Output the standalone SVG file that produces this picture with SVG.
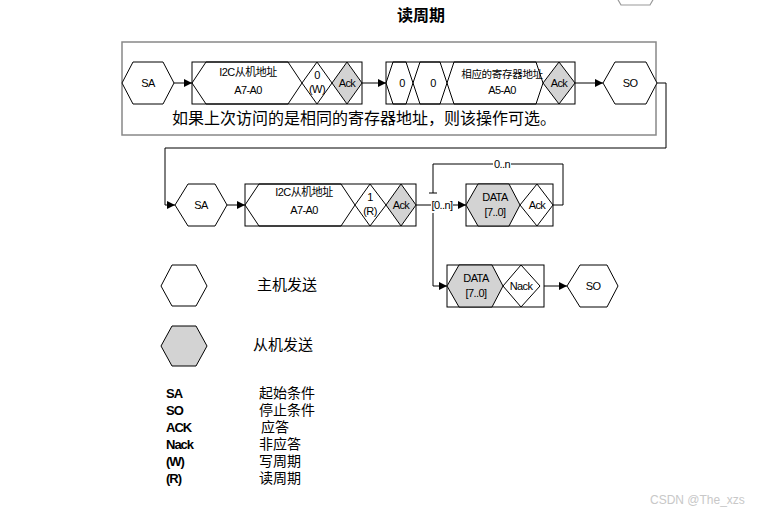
<svg xmlns="http://www.w3.org/2000/svg" width="762" height="514" viewBox="0 0 762 514">
<defs>
<marker id="arr" viewBox="0 0 10 10" refX="10" refY="5" markerWidth="8" markerHeight="8" markerUnits="userSpaceOnUse" orient="auto">
<path d="M0,0 L10,5 L0,10 z" fill="#000"/>
</marker>
<style>
.s{fill:none;stroke:#000;stroke-width:1}
.w{fill:#fff;stroke:#000;stroke-width:1}
.g{fill:#d3d3d3;stroke:#000;stroke-width:1}
.c{fill:none;stroke:#000;stroke-width:1}
.t{font-family:"Liberation Sans",Arial,sans-serif;font-size:11px;letter-spacing:-0.6px;text-anchor:middle;fill:#000}
.tc{font-family:"Liberation Sans","Noto Sans CJK SC",sans-serif;font-size:11px;letter-spacing:-0.5px;text-anchor:middle;fill:#000}
.cn{font-family:"Noto Sans CJK SC",sans-serif;font-size:15px;fill:#000}
.cs{font-family:"Liberation Sans","Noto Sans CJK SC",sans-serif;font-size:14px;fill:#000}
.lg{font-family:"Liberation Sans",Arial,sans-serif;font-size:13px;font-weight:bold;letter-spacing:-1px;fill:#000}
</style>
</defs>
<rect width="762" height="514" fill="#fff"/>
<polyline points="617,-2 621,5 650,5 654,-2" fill="none" stroke="#999" stroke-width="1.2"/>
<text x="421" y="21" font-family="'Noto Sans CJK SC',sans-serif" font-size="16" font-weight="bold" text-anchor="middle">读周期</text>
<rect id="optional" x="122" y="42" width="534" height="93" fill="none" stroke="#888" stroke-width="1.5"/>
<text x="364" y="124" class="cn" text-anchor="middle" style="font-size:16px">如果上次访问的是相同的寄存器地址，则该操作可选。</text>

<g id="connectors">
<line class="c" x1="174" y1="83" x2="192" y2="83" marker-end="url(#arr)"/>
<line class="c" x1="362" y1="83" x2="386" y2="83" marker-end="url(#arr)"/>
<line class="c" x1="575" y1="83" x2="603" y2="83" marker-end="url(#arr)"/>
<polyline class="c" points="657,83 666,83 666,148 165,148 165,205 175,205" marker-end="url(#arr)"/>
<line class="c" x1="227" y1="205" x2="245" y2="205" marker-end="url(#arr)"/>
<line class="c" x1="416" y1="205" x2="431" y2="205"/>
<line class="c" x1="453" y1="205" x2="466" y2="205" marker-end="url(#arr)"/>
<polyline class="c" points="553,205 563,205 563,164 433,164 433,193"/>
<line class="c" x1="429" y1="193" x2="437" y2="193"/>
<rect x="493" y="157" width="18" height="12" fill="#fff"/>
<text x="502" y="168" class="t">0..n</text>
<text x="442" y="209" class="t">[0..n]</text>
<polyline class="c" points="433,213 433,286 447,286" marker-end="url(#arr)"/>
<line class="c" x1="540" y1="286" x2="567" y2="286" marker-end="url(#arr)"/>
</g>

<g id="sa1">
<polygon class="w" points="122,83 133,62 163,62 174,83 163,104 133,104"/>
<text x="148" y="87" class="t">SA</text>
</g>
<g id="addr1">
<rect class="w" x="192" y="62" width="170" height="42"/>
<polygon class="s" points="192,83 206,62 288,62 302,83 288,104 206,104"/>
<polygon class="w" points="302,83 317,62 332,83 317,104"/>
<polygon class="g" points="332,83 347,62 362,83 347,104"/>
<text x="248" y="76" class="tc">I2C从机地址</text>
<text x="248" y="94" class="t">A7-A0</text>
<text x="317" y="79" class="t">0</text>
<text x="317" y="93" class="t">(W)</text>
<text x="347" y="87" class="t">Ack</text>
</g>
<g id="reg">
<rect class="w" x="386" y="62" width="189" height="42"/>
<polygon class="s" points="386,83 393,62 406,62 413,83 406,104 393,104"/>
<polygon class="s" points="413,83 420,62 440,62 447,83 440,104 420,104"/>
<polygon class="s" points="447,83 454,62 536,62 543,83 536,104 454,104"/>
<polygon class="g" points="543,83 559,62 575,83 559,104"/>
<text x="402" y="87" class="t">0</text>
<text x="433" y="87" class="t">0</text>
<text x="502" y="78" class="tc" style="font-size:10.5px;letter-spacing:-0.3px">相应的寄存器地址</text>
<text x="502" y="94" class="t">A5-A0</text>
<text x="559" y="87" class="t">Ack</text>
</g>
<g id="so1">
<polygon class="w" points="603,83 615,62 646,62 657,83 646,104 615,104"/>
<text x="630" y="87" class="t">SO</text>
</g>

<g id="sa2">
<polygon class="w" points="175,205 188,184 215,184 227,205 215,226 188,226"/>
<text x="201" y="209" class="t">SA</text>
</g>
<g id="addr2">
<rect class="w" x="245" y="184" width="171" height="42"/>
<polygon class="s" points="245,205 259,184 341,184 355,205 341,226 259,226"/>
<polygon class="w" points="355,205 370,184 386,205 370,226"/>
<polygon class="g" points="386,205 401,184 416,205 401,226"/>
<text x="304" y="196" class="tc">I2C从机地址</text>
<text x="304" y="214" class="t">A7-A0</text>
<text x="370" y="201" class="t">1</text>
<text x="370" y="215" class="t">(R)</text>
<text x="401" y="209" class="t">Ack</text>
</g>
<g id="data1">
<rect class="w" x="466" y="184" width="87" height="42"/>
<polygon class="g" points="466,205 478,184 509,184 520,205 509,226 478,226"/>
<polygon class="w" points="520,205 537,184 553,205 537,226"/>
<text x="495" y="201" class="t">DATA</text>
<text x="495" y="216" class="t">[7..0]</text>
<text x="537" y="209" class="t">Ack</text>
</g>
<g id="data2">
<rect class="w" x="447" y="265" width="97" height="42"/>
<polygon class="g" points="447,286 459,265 492,265 503,286 492,307 459,307"/>
<polygon class="w" points="503,286 521,265 540,286 521,307"/>
<text x="476" y="282" class="t">DATA</text>
<text x="476" y="297" class="t">[7..0]</text>
<text x="521" y="290" class="t">Nack</text>
</g>
<g id="so2">
<polygon class="w" points="567,286 580,265 607,265 618,286 607,307 580,307"/>
<text x="593" y="290" class="t">SO</text>
</g>

<g id="legend">
<polygon class="w" points="161,286 172,265 196,265 207,286 196,306 172,306"/>
<text x="257" y="290" class="cn">主机发送</text>
<polygon class="g" points="161,346 172,326 196,326 207,346 196,366 172,366"/>
<text x="253" y="350" class="cn">从机发送</text>
<text x="166" y="398" class="lg">SA</text>
<text x="166" y="415" class="lg">SO</text>
<text x="166" y="432" class="lg">ACK</text>
<text x="166" y="449" class="lg">Nack</text>
<text x="166" y="466" class="lg">(W)</text>
<text x="166" y="483" class="lg">(R)</text>
<text x="259" y="398" class="cs">起始条件</text>
<text x="259" y="415" class="cs">停止条件</text>
<text x="261" y="432" class="cs">应答</text>
<text x="259" y="449" class="cs">非应答</text>
<text x="259" y="466" class="cs">写周期</text>
<text x="259" y="483" class="cs">读周期</text>
</g>
<text x="650" y="504" font-family="'Liberation Sans',Arial,sans-serif" font-size="12" fill="#c8c8c8">CSDN @The_xzs</text>
</svg>
